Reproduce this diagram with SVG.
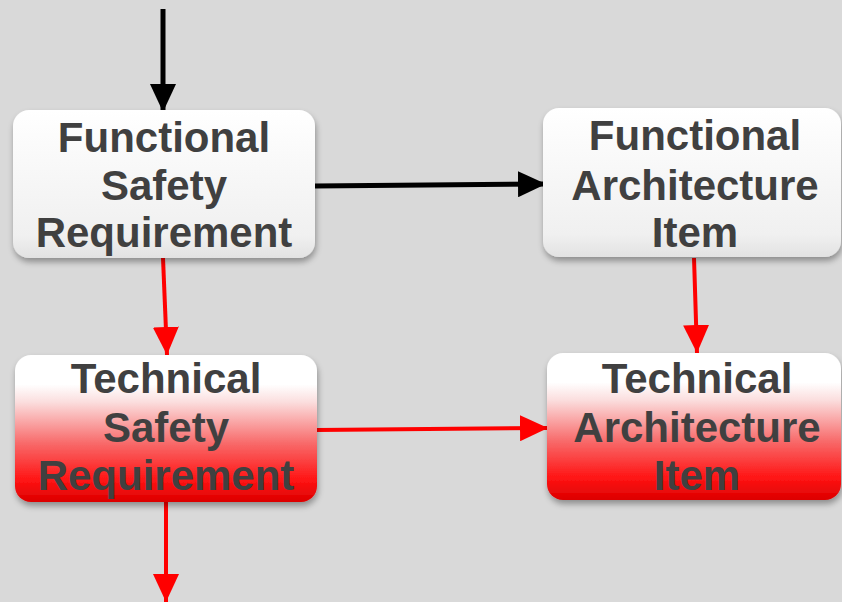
<svg xmlns="http://www.w3.org/2000/svg" width="842" height="602" viewBox="0 0 842 602">
<style>
.lbl{font-family:"Liberation Sans",Arial,sans-serif;font-weight:bold;font-size:42px;fill:#404040;text-anchor:middle}
.blk{stroke:#000;stroke-width:5;fill:none}
.red{stroke:#ff0000;stroke-width:4;fill:none}
.fbox{fill:url(#gf)}
.tbox{fill:url(#gt)}
</style>
<defs>
<linearGradient id="gf" x1="0" y1="0" x2="0" y2="1">
<stop offset="0" stop-color="#ffffff"/>
<stop offset="0.85" stop-color="#f0f0f0"/>
<stop offset="1" stop-color="#e2e2e2"/>
</linearGradient>
<linearGradient id="gt" x1="0" y1="0" x2="0" y2="1">
<stop offset="0" stop-color="#ffffff"/>
<stop offset="0.2" stop-color="#ffffff"/>
<stop offset="0.32" stop-color="#fbdede"/>
<stop offset="0.6" stop-color="#f86a6a"/>
<stop offset="0.85" stop-color="#ff1414"/>
<stop offset="1" stop-color="#dc0000"/>
</linearGradient>
<filter id="sh" x="-10%" y="-10%" width="120%" height="130%">
<feGaussianBlur in="SourceAlpha" stdDeviation="3"/>
<feOffset dx="1" dy="4" result="b"/>
<feComponentTransfer><feFuncA type="linear" slope="0.35"/></feComponentTransfer>
<feMerge><feMergeNode/><feMergeNode in="SourceGraphic"/></feMerge>
</filter>
<marker id="ab" viewBox="0 0 28 26" refX="28" refY="13" markerWidth="28" markerHeight="26" markerUnits="userSpaceOnUse" orient="auto"><path d="M0,0 L28,13 L0,26 z" fill="#000"/></marker>
<marker id="ar" viewBox="0 0 28 26" refX="28" refY="13" markerWidth="28" markerHeight="26" markerUnits="userSpaceOnUse" orient="auto"><path d="M0,0 L28,13 L0,26 z" fill="#ff0000"/></marker>
</defs>
<rect width="842" height="602" fill="#d9d9d9"/>
<g id="connectors">
<path class="blk" d="M163,9 L163,112" marker-end="url(#ab)"/>
<path class="blk" d="M315,186 L546,184" marker-end="url(#ab)"/>
<path class="red" d="M163,258 L167,355" marker-end="url(#ar)"/>
<path class="red" d="M694,258 L697,353" marker-end="url(#ar)"/>
<path class="red" d="M317,430 L548,428" marker-end="url(#ar)"/>
<path class="red" d="M166,502 L166,602" marker-end="url(#ar)"/>
</g>
<g id="fsr">
<rect class="fbox" x="13" y="110" width="302" height="148" rx="16" filter="url(#sh)"/>
<text class="lbl" x="164" y="152">Functional</text>
<text class="lbl" x="164" y="200">Safety</text>
<text class="lbl" x="164" y="247">Requirement</text>
</g>
<g id="fai">
<rect class="fbox" x="543" y="108" width="298" height="149" rx="16" filter="url(#sh)"/>
<text class="lbl" x="695" y="150">Functional</text>
<text class="lbl" x="695" y="200">Architecture</text>
<text class="lbl" x="695" y="247">Item</text>
</g>
<g id="tsr">
<rect class="tbox" x="15" y="355" width="302" height="147" rx="16" filter="url(#sh)"/>
<text class="lbl" x="166" y="393">Technical</text>
<text class="lbl" x="166" y="442">Safety</text>
<text class="lbl" x="166" y="490">Requirement</text>
</g>
<g id="tai">
<rect class="tbox" x="547" y="353" width="294" height="147" rx="16" filter="url(#sh)"/>
<text class="lbl" x="697" y="393">Technical</text>
<text class="lbl" x="697" y="442">Architecture</text>
<text class="lbl" x="697" y="490">Item</text>
</g>
</svg>
